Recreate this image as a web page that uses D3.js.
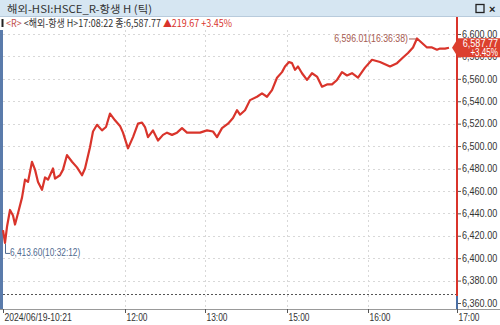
<!DOCTYPE html>
<html>
<head>
<meta charset="utf-8">
<script src="https://cdn.jsdelivr.net/npm/d3@7"></script>
<style>
body { margin: 0; background: #fff; }
svg { display: block; }
text { font-family: "Liberation Sans", "DejaVu Sans", "Noto Sans CJK KR", sans-serif; }
.kr { font-family: "Noto Sans CJK KR", sans-serif; }
</style>
</head>
<body>
<div id="chart"></div>
<script>
var W = 500, H = 325;
var PLOT_L = 3, PLOT_R = 457, PLOT_T = 34, PLOT_B = 303;

// tick index (position in the tick stream) and price
var tickIdx = [0, 2, 4, 7, 10, 12, 15, 19, 22, 25, 29, 32, 35, 39, 42, 45, 50, 52, 57, 60, 64, 69, 74, 79, 82, 87, 90, 94, 99, 103, 107, 112, 117, 120, 125, 130, 135, 139, 142, 145, 150, 155, 160, 164, 169, 174, 179, 184, 190, 197, 204, 210, 214, 219, 225, 230, 234, 237, 242, 247, 254, 259, 264, 269, 274, 279, 282, 286, 289, 292, 295, 299, 304, 309, 314, 319, 324, 329, 334, 339, 344, 349, 355, 362, 369, 377, 387, 394, 400, 405, 410, 414, 419, 424, 429, 434, 437, 442, 446];
var prices = [6425, 6413.6, 6428, 6443, 6438, 6430, 6440, 6454, 6470, 6468, 6486, 6479, 6468, 6461, 6472, 6470, 6480, 6471, 6474, 6479, 6492, 6486, 6481, 6474, 6480, 6499, 6513, 6519, 6514, 6517, 6529, 6523, 6518, 6512, 6498, 6508, 6520, 6521, 6517, 6508, 6514, 6505, 6510, 6512, 6510, 6512, 6516, 6512, 6512, 6512, 6514, 6513, 6508, 6516, 6520, 6525, 6532, 6528, 6532, 6541, 6544, 6547, 6544, 6550, 6561, 6566, 6571, 6575, 6574, 6568, 6571, 6565, 6559, 6565, 6562, 6553, 6555, 6555, 6559, 6566, 6563, 6565, 6561, 6570, 6577, 6575, 6571, 6574, 6579, 6583, 6588, 6596.01, 6592, 6588, 6588, 6586, 6587, 6587, 6587.77];

var yTicks = [6600, 6580, 6560, 6540, 6520, 6500, 6480, 6460, 6440, 6420, 6400, 6380, 6360];
var xTickIdx = [0, 122, 202, 284, 365, 454];
var xTickLabels = ["2024/06/19-10:21", "12:00", "13:00", "15:00", "16:00", "17:00"];
var prevClose = 6368.10;
var lastPrice = 6587.77;
var lastPct = "+3.45%";
var maxLabel = "6,596.01(16:36:38)";
var minLabel = "6,413.60(10:32:12)";

// the terminal font is narrow: squeeze glyphs to about 4.2px per character
function narrow(sel, per) {
    sel.attr("lengthAdjust", "spacingAndGlyphs")
        .attr("textLength", function () { return this.textContent.length * (per || 4.2); });
}

var svg = d3.select("#chart").append("svg").attr("width", W).attr("height", H);

var x = d3.scaleLinear().domain([0, 454]).range([PLOT_L, PLOT_R]);
var y = d3.scaleLinear().domain([6360, 6600]).range([PLOT_B, PLOT_T]);
var fmt = d3.format(",.2f");

// title bar
svg.append("rect").attr("x", 0).attr("y", 0).attr("width", W).attr("height", 17).attr("fill", "#d6e6f2");
svg.append("line").attr("x1", 0).attr("x2", W).attr("y1", 16.5).attr("y2", 16.5).attr("stroke", "#b8cbdc");
svg.append("text").attr("class", "kr").attr("x", 7).attr("y", 12.5)
    .attr("font-size", 10.5).attr("fill", "#333").text("해외-HSI:HSCE_R-항생 H (틱)")
    .attr("lengthAdjust", "spacingAndGlyphs").attr("textLength", 145);
svg.append("rect").attr("x", 476).attr("y", 4.5).attr("width", 8).attr("height", 8)
    .attr("fill", "none").attr("stroke", "#222").attr("stroke-width", 1.3);
svg.append("text").attr("x", 489).attr("y", 12.5).attr("font-size", 11).attr("font-weight", "bold")
    .attr("fill", "#222").text("×");

// info line
svg.append("rect").attr("x", 1.5).attr("y", 19).attr("width", 2).attr("height", 8).attr("fill", "#222");
var info = svg.append("text").attr("class", "kr").attr("x", 6).attr("y", 26.5).attr("font-size", 10)
    .attr("lengthAdjust", "spacingAndGlyphs").attr("textLength", 226);
info.append("tspan").attr("fill", "#c0504d").text("<R>");
info.append("tspan").attr("fill", "#333").text(" <해외-항생 H>17:08:22 종:" + fmt(lastPrice) + " ");
info.append("tspan").attr("fill", "#d9342b").text("▲219.67 " + lastPct);

// grid
svg.append("g").selectAll("line").data(yTicks.slice(0, -1)).join("line")
    .attr("x1", PLOT_L).attr("x2", PLOT_R)
    .attr("y1", function (d) { return Math.round(y(d)) + 0.5; })
    .attr("y2", function (d) { return Math.round(y(d)) + 0.5; })
    .attr("stroke", "#d8d8d8").attr("stroke-dasharray", "2,3");
svg.append("g").selectAll("line").data(xTickIdx.slice(1, -1)).join("line")
    .attr("x1", function (d) { return Math.round(x(d)) + 0.5; })
    .attr("x2", function (d) { return Math.round(x(d)) + 0.5; })
    .attr("y1", 30).attr("y2", 309)
    .attr("stroke", "#d8d8d8").attr("stroke-dasharray", "2,3");

// previous close
svg.append("line").attr("x1", PLOT_L).attr("x2", PLOT_R)
    .attr("y1", Math.round(y(prevClose)) + 0.5).attr("y2", Math.round(y(prevClose)) + 0.5)
    .attr("stroke", "#555").attr("stroke-dasharray", "2,2");

// left frame
svg.append("rect").attr("x", 0).attr("y", 30).attr("width", 3).attr("height", 279).attr("fill", "#5a7bab");

// x axis
var xAxis = d3.axisBottom(x).tickValues(xTickIdx).tickSize(4)
    .tickFormat(function (d, i) { return xTickLabels[i]; });
var gx = svg.append("g").attr("transform", "translate(0,309)").call(xAxis);
gx.select(".domain").attr("d", "M0,0.5H" + W).attr("stroke", "#999");
gx.selectAll(".tick line").attr("stroke", "#555");
gx.selectAll(".tick text").attr("text-anchor", "start").attr("dx", 1).attr("y", 5)
    .attr("font-size", 10).attr("fill", "#333").call(narrow, 4.2);

// y axis on the right
var yAxis = d3.axisRight(y).tickValues(yTicks).tickSize(3).tickFormat(fmt);
var gy = svg.append("g").attr("transform", "translate(" + (PLOT_R + 1) + ",0)").call(yAxis);
gy.select(".domain").remove();
gy.selectAll(".tick line").attr("stroke", "#555");
gy.selectAll(".tick text").attr("x", 4).attr("font-size", 10).attr("fill", "#333").call(narrow, 4.4);

// current-time line
svg.append("line").attr("x1", PLOT_R).attr("x2", PLOT_R).attr("y1", 17).attr("y2", 296)
    .attr("stroke", "#d9342b").attr("stroke-width", 2);
svg.append("line").attr("x1", PLOT_R).attr("x2", PLOT_R).attr("y1", 296).attr("y2", 309)
    .attr("stroke", "#4a6fa5").attr("stroke-width", 2);

// price line
var pts = tickIdx.map(function (d, i) { return [d, prices[i]]; });
var line = d3.line().x(function (d) { return x(d[0]); }).y(function (d) { return y(d[1]); });
svg.append("path").datum(pts).attr("d", line).attr("fill", "none")
    .attr("stroke", "#d9342b").attr("stroke-width", 2.2).attr("stroke-linejoin", "round");

// max / min annotations
var iMax = d3.maxIndex(prices), iMin = d3.minIndex(prices);
var mx = x(tickIdx[iMax]), my = y(prices[iMax]);
svg.append("line").attr("x1", mx - 8).attr("x2", mx - 1).attr("y1", my + 0.5).attr("y2", my + 0.5)
    .attr("stroke", "#a65a50");
svg.append("text").attr("x", mx - 9).attr("y", my + 3.5).attr("text-anchor", "end")
    .attr("font-size", 10).attr("fill", "#a65a50").text(maxLabel).call(narrow, 4.1);
var nx = x(tickIdx[iMin]), ny = y(prices[iMin]);
svg.append("path").attr("d", "M" + (nx + 0.5) + "," + (ny + 1) + "V" + (ny + 10.5) + "H" + (nx + 5))
    .attr("fill", "none").attr("stroke", "#4f6a8f");
svg.append("text").attr("x", nx + 5).attr("y", ny + 13).attr("font-size", 10)
    .attr("fill", "#4f6a8f").text(minLabel).call(narrow, 3.9);

// last price tag
var ly = y(lastPrice);
svg.append("path")
    .attr("d", "M" + (PLOT_R - 5) + "," + ly + "L" + (PLOT_R + 1) + "," + (ly - 9.5) + "H" + W + "V" + (ly + 9.5) + "H" + (PLOT_R + 1) + "Z")
    .attr("fill", "#dc3f2e");
svg.append("text").attr("x", W - 2).attr("y", ly - 1).attr("text-anchor", "end")
    .attr("font-size", 10).attr("fill", "#fff").text(fmt(lastPrice)).call(narrow, 4.4);
svg.append("text").attr("x", W - 2).attr("y", ly + 8).attr("text-anchor", "end")
    .attr("font-size", 10).attr("fill", "#fff").text(lastPct).call(narrow, 4.6);
</script>
</body>
</html>
